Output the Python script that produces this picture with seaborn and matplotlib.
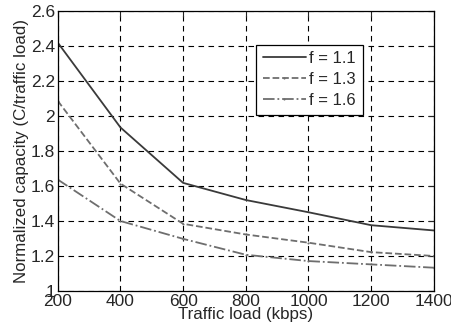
import numpy as np
import pandas as pd
import matplotlib
matplotlib.use('Agg')
import matplotlib.pyplot as plt
import matplotlib.ticker as mticker
import seaborn as sns

load = [200, 400, 600, 800, 1000, 1200, 1400]
cap_11 = [2.42, 1.935, 1.618, 1.52, 1.45, 1.376, 1.346]
cap_13 = [2.087, 1.614, 1.384, 1.323, 1.276, 1.222, 1.2]
cap_16 = [1.637, 1.40, 1.298, 1.207, 1.171, 1.152, 1.133]
labels = ['f = 1.1', 'f = 1.3', 'f = 1.6']

sns.set_style('white')
plt.rcParams['font.family'] = ['Liberation Sans', 'DejaVu Sans']

fig, ax = plt.subplots(figsize=(4.51, 3.36), dpi=100)
styles = [('#3a3a3a', '-', None), ('#6e6e6e', '--', '.'), ('#6e6e6e', '-.', '.')]
for vals, lab, (c, ls, mk) in zip([cap_11, cap_13, cap_16], labels, styles):
    sns.lineplot(x=load, y=vals, ax=ax, color=c, linestyle=ls, linewidth=1.3,
                 marker=mk, markersize=3, markeredgewidth=0, label=lab)

ax.set_xlim(200, 1400)
ax.set_ylim(1, 2.6)
ax.set_xticks(np.arange(200, 1401, 200))
ax.set_yticks(np.arange(1, 2.61, 0.2))
ax.yaxis.set_major_formatter(mticker.FuncFormatter(lambda v, p: f'{v:g}'))
ax.grid(True, color='black', linestyle=(0, (5, 4)), linewidth=0.8)
ax.tick_params(direction='in', labelsize=12.5, length=4, top=True, right=True, pad=2)
for s in ax.spines.values():
    s.set_color('black')
    s.set_linewidth(0.9)
ax.set_xlabel('Traffic load (kbps)', fontsize=12.2, labelpad=-1)
ax.set_ylabel('Normalized capacity (C/traffic load)', fontsize=12.2, labelpad=1)

leg = ax.legend(loc='upper left', bbox_to_anchor=(0.505, 0.91), fontsize=12,
                frameon=True, fancybox=False, edgecolor='black', framealpha=1,
                handlelength=2.6, handletextpad=0.2, borderpad=0.4, labelspacing=0.35)
leg.get_frame().set_linewidth(0.9)

fig.subplots_adjust(left=0.128, right=0.962, top=0.967, bottom=0.134)
fig.savefig('out.png', dpi=100)
